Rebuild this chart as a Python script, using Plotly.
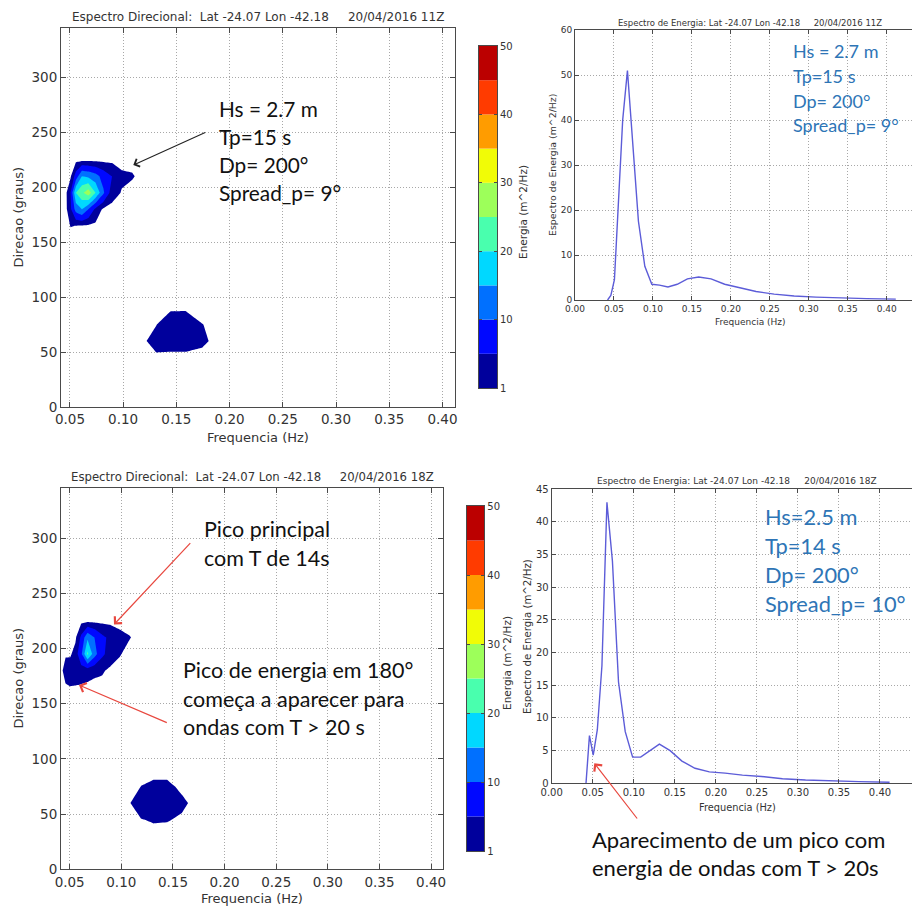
import plotly.graph_objects as go

W, H = 912, 908

# WAVEWATCH III frequency bins (Hz)
FREQS = [0.0418, 0.0460, 0.0506, 0.0556, 0.0612, 0.0673, 0.0740, 0.0814, 0.0896,
         0.0986, 0.1084, 0.1193, 0.1312, 0.1443, 0.1587, 0.1746, 0.1921, 0.2113,
         0.2324, 0.2556, 0.2812, 0.3093, 0.3403, 0.3743, 0.4117]
N2D = 18  # frequency bins carried by the directional grids below

# direction bins (degrees) carried by the directional grids
DIRS = [30, 45, 60, 75, 90, 105, 120, 135, 150, 165, 180, 195, 210, 225, 240]

# directional energy E(f, theta), m^2/Hz, one row per direction in DIRS
E2D_11Z = [
    [0, 0, 0, 0, 0, 0, 0, 0, 0, 0, 0, 0, 0, 0, 0, 0, 0, 0],
    [0, 0, 0, 0, 0, 0, 0, 0, 0, 0, 0, 0, 0.3, 0.2, 0.2, 0.2, 0, 0],
    [0, 0, 0, 0, 0, 0, 0, 0, 0, 0, 0, 0.5, 2.6, 2.5, 2.5, 1.5, 0, 0],
    [0, 0, 0, 0, 0, 0, 0, 0, 0, 0, 0, 0, 0.9, 3.8, 3.8, 1.05, 0, 0],
    [0, 0, 0, 0, 0, 0, 0, 0, 0, 0, 0, 0, 0, 0.3, 0.4, 0, 0, 0],
    [0, 0, 0, 0, 0, 0, 0, 0, 0, 0, 0, 0, 0, 0, 0, 0, 0, 0],
    [0, 0, 0, 0, 0, 0, 0, 0, 0, 0, 0, 0, 0, 0, 0, 0, 0, 0],
    [0, 0, 0, 0, 0, 0, 0, 0, 0, 0, 0, 0, 0, 0, 0, 0, 0, 0],
    [0, 0, 0, 0, 0, 0, 0, 0, 0, 0, 0, 0, 0, 0, 0, 0, 0, 0],
    [0, 0, 1.1, 0.97, 0.8, 0.6, 0.3, 0, 0, 0, 0, 0, 0, 0, 0, 0, 0, 0],
    [0, 0, 4, 12, 15, 10, 4, 0.3, 0, 0, 0, 0, 0, 0, 0, 0, 0, 0],
    [0, 0, 5, 20, 24, 28, 20, 10.8, 2.5, 0.8, 0, 0, 0, 0, 0, 0, 0, 0],
    [0, 0, 0.5, 7, 15, 14, 12, 8, 5, 1.6, 1.3, 0, 0, 0, 0, 0, 0, 0],
    [0, 0, 0, 0, 0, 0, 0, 0, 0, 0, 0, 0, 0, 0, 0, 0, 0, 0],
    [0, 0, 0, 0, 0, 0, 0, 0, 0, 0, 0, 0, 0, 0, 0, 0, 0, 0],
]

E2D_18Z = [
    [0, 0, 0, 0, 0, 0, 0, 0, 0, 0, 0, 0, 0, 0, 0, 0, 0, 0],
    [0, 0, 0, 0, 0, 0, 0, 0, 0, 0, 0, 0.9, 1.3, 1.2, 0.6, 0, 0, 0],
    [0, 0, 0, 0, 0, 0, 0, 0, 0, 0, 0.9, 3, 4, 4, 1.6, 0, 0, 0],
    [0, 0, 0, 0, 0, 0, 0, 0, 0, 0, 0, 1.05, 1.7, 1.7, 0.4, 0, 0, 0],
    [0, 0, 0, 0, 0, 0, 0, 0, 0, 0, 0, 0, 0, 0, 0, 0, 0, 0],
    [0, 0, 0, 0, 0, 0, 0, 0, 0, 0, 0, 0, 0, 0, 0, 0, 0, 0],
    [0, 0, 0, 0, 0, 0, 0, 0, 0, 0, 0, 0, 0, 0, 0, 0, 0, 0],
    [0, 0, 0, 0, 0, 0, 0, 0, 0, 0, 0, 0, 0, 0, 0, 0, 0, 0],
    [0, 0, 0, 0, 0, 0, 0, 0, 0, 0, 0, 0, 0, 0, 0, 0, 0, 0],
    [0, 0.6, 0.9, 0.8, 0.6, 0.4, 0.1, 0, 0, 0, 0, 0, 0, 0, 0, 0, 0, 0],
    [0.3, 2.4, 3.0, 3.0, 3.0, 2.4, 1.8, 1.43, 0.3, 0, 0, 0, 0, 0, 0, 0, 0, 0],
    [0, 0.6, 0.5, 2.5, 9, 21, 12, 6, 3, 1.2, 0, 0, 0, 0, 0, 0, 0, 0],
    [0, 0, 0, 0.3, 6, 14, 10, 6, 4, 1.9, 1.1, 0, 0, 0, 0, 0, 0, 0],
    [0, 0, 0, 0, 0, 0, 0, 0, 0, 0, 0, 0, 0, 0, 0, 0, 0, 0],
    [0, 0, 0, 0, 0, 0, 0, 0, 0, 0, 0, 0, 0, 0, 0, 0, 0, 0],
]

# 1D energy spectra E(f), m^2/Hz, one value per entry of FREQS
E1D_11Z = [0, 1.0, 4.5, 21, 40, 51, 34, 17.5, 7.5, 3.5, 3.3, 2.9, 3.5, 4.7, 5.1,
           4.7, 3.5, 2.7, 1.9, 1.3, 0.9, 0.65, 0.45, 0.3, 0.2]
E1D_18Z = [0, 7.3, 4.3, 8.2, 18, 43, 34, 15.5, 7.9, 4.0, 4.0, 5.0, 6.0, 5.0, 3.4,
           2.3, 1.75, 1.55, 1.25, 1.05, 0.7, 0.5, 0.35, 0.25, 0.15]

# contour levels and the colour of each band between consecutive levels
LEVELS = [1, 5, 10, 15, 20, 25, 30, 35, 40, 45, 50]
BAND_COLORS = ['#00009c', '#0008ff', '#0070ff', '#00d8ff', '#49ffae',
               '#9dff5a', '#f1fc06', '#ff9c00', '#ff3b00', '#bb0000']
CBAR_LABELS = [1, 10, 20, 30, 40, 50]

DIR_TICKS_X = [0.05, 0.10, 0.15, 0.20, 0.25, 0.30, 0.35, 0.40]
DIR_TICKS_Y = [0, 50, 100, 150, 200, 250, 300]
SPEC_TICKS_X = [0.00, 0.05, 0.10, 0.15, 0.20, 0.25, 0.30, 0.35, 0.40]

TITLE_DIR = 'Espectro Direcional:\u00a0 Lat -24.07 Lon -42.18 \u00a0 \u00a0 20/04/2016 {}'
TITLE_SPEC = 'Espectro de Energia: Lat -24.07 Lon -42.18 \u00a0 \u00a0 20/04/2016 {}'

TXT = '#333333'
FRAME = '#4a4a4a'
GRID = '#a8a8a8'
CHART_FONT = 'DejaVu Sans'
NOTE_FONT = 'Lato'
NOTE_BLUE = '#2e75b6'
ARROW_RED = '#e8483f'
LINE_BLUE = '#5c5cd8'


def fx(x):
    return x / W


def fy(y):
    return 1 - y / H


fig = go.Figure()


def transparent_step(color):
    return [[0, 'rgba(0,0,0,0)'], [0.5, 'rgba(0,0,0,0)'], [0.5, color], [1, color]]


def band_scale(colors):
    # stepped scale: position 0 (below the first level) stays transparent
    n = len(colors)
    scale = [[0, 'rgba(0,0,0,0)'], [0.5 / n, 'rgba(0,0,0,0)']]
    for k, c in enumerate(colors, start=1):
        lo = (k - 0.5) / n
        hi = min((k + 0.5) / n, 1)
        scale += [[lo, c], [hi, c]]
    return scale


def add_directional(z, xa, ya):
    x = FREQS[:N2D]
    # lowest band: everything above the first level
    fig.add_trace(go.Contour(
        x=x, y=DIRS, z=z, xaxis=xa, yaxis=ya,
        autocontour=False,
        contours=dict(start=LEVELS[0], end=LEVELS[0] + 1, size=10,
                      coloring='fill', showlines=False),
        line=dict(width=0, smoothing=0),
        colorscale=transparent_step(BAND_COLORS[0]),
        showscale=False, hoverinfo='skip'))
    # remaining evenly spaced bands
    step = LEVELS[2] - LEVELS[1]
    fig.add_trace(go.Contour(
        x=x, y=DIRS, z=z, xaxis=xa, yaxis=ya,
        autocontour=False,
        contours=dict(start=LEVELS[1], end=LEVELS[-2], size=step,
                      coloring='fill', showlines=False),
        line=dict(width=0, smoothing=0),
        colorscale=band_scale(BAND_COLORS[1:]),
        showscale=False, hoverinfo='skip'))


def add_colorbar(xa, ya):
    nb = len(BAND_COLORS)
    fig.add_trace(go.Bar(
        x=[0] * nb, y=[1] * nb, base=list(range(nb)), width=1,
        marker=dict(color=BAND_COLORS, line=dict(width=0)),
        xaxis=xa, yaxis=ya, showlegend=False, hoverinfo='skip'))


def add_spectrum(e, xa, ya):
    fig.add_trace(go.Scatter(
        x=FREQS, y=e, mode='lines', xaxis=xa, yaxis=ya,
        line=dict(color=LINE_BLUE, width=1.4),
        showlegend=False, hoverinfo='skip'))


add_directional(E2D_11Z, 'x', 'y')
add_colorbar('x2', 'y2')
add_spectrum(E1D_11Z, 'x3', 'y3')
add_directional(E2D_18Z, 'x4', 'y4')
add_colorbar('x5', 'y5')
add_spectrum(E1D_18Z, 'x6', 'y6')


def frame_axis(domain, rng, tickvals, ticktext, size, anchor, mirror=True,
               grid=True, side=None, ticklen=5):
    ax = dict(domain=domain, range=rng, anchor=anchor, automargin=False,
              tickmode='array', tickvals=tickvals, ticktext=ticktext,
              ticks='inside', ticklen=ticklen, tickwidth=1, tickcolor=FRAME,
              showline=True, linecolor=FRAME, linewidth=1,
              mirror='ticks' if mirror else False,
              showgrid=grid, gridcolor=GRID, gridwidth=1, griddash='1px,2px',
              zeroline=False, fixedrange=True,
              tickfont=dict(family=CHART_FONT, size=size, color=TXT))
    if side:
        ax['side'] = side
    return ax


def fmt2(v):
    return '%.2f' % v


def ints(vals):
    return [str(v) for v in vals]


cbar_pos = [LEVELS.index(v) for v in CBAR_LABELS]
cbar_txt = ints(CBAR_LABELS)
nbands = len(BAND_COLORS)

layout_axes = dict(
    # top left: directional spectrum 11Z
    xaxis=frame_axis([fx(61), fx(455)], [0.0416, 0.4118], DIR_TICKS_X,
                     [fmt2(v) for v in DIR_TICKS_X], 13.5, 'y'),
    yaxis=frame_axis([fy(407), fy(28)], [0, 345], DIR_TICKS_Y, ints(DIR_TICKS_Y), 13.5, 'x'),
    # top colour bar
    xaxis2=frame_axis([fx(479), fx(497)], [-0.5, 0.5], [], [], 10, 'y2', grid=False),
    yaxis2=frame_axis([fy(388), fy(46)], [0, nbands], cbar_pos, cbar_txt, 10, 'x2',
                      grid=False, side='right', ticklen=3),
    # top right: 1D spectrum 11Z
    xaxis3=frame_axis([fx(575), 1.0], [0, 0.4325], SPEC_TICKS_X,
                      [fmt2(v) for v in SPEC_TICKS_X], 9, 'y3', ticklen=4),
    yaxis3=frame_axis([fy(300), fy(30)], [0, 60], list(range(0, 61, 10)),
                      ints(range(0, 61, 10)), 9, 'x3', mirror=False, ticklen=4),
    # bottom left: directional spectrum 18Z
    xaxis4=frame_axis([fx(61), fx(443.3)], [0.0416, 0.4118], DIR_TICKS_X,
                      [fmt2(v) for v in DIR_TICKS_X], 13.5, 'y4'),
    yaxis4=frame_axis([fy(869.3), fy(488.3)], [0, 345], DIR_TICKS_Y, ints(DIR_TICKS_Y), 13.5, 'x4'),
    # bottom colour bar
    xaxis5=frame_axis([fx(466.7), fx(484.3)], [-0.5, 0.5], [], [], 10, 'y5', grid=False),
    yaxis5=frame_axis([fy(851), fy(506)], [0, nbands], cbar_pos, cbar_txt, 10, 'x5',
                      grid=False, side='right', ticklen=3),
    # bottom right: 1D spectrum 18Z
    xaxis6=frame_axis([fx(551.7), 1.0], [0, 0.439], SPEC_TICKS_X,
                      [fmt2(v) for v in SPEC_TICKS_X], 10, 'y6', ticklen=4),
    yaxis6=frame_axis([fy(783.3), fy(489.3)], [0, 45], list(range(0, 46, 5)),
                      ints(range(0, 46, 5)), 10, 'x6', mirror=False, ticklen=4),
)

annotations = []


def label(text, x, y, size, color=TXT, family=CHART_FONT, angle=0,
          xanchor='center', yanchor='middle'):
    annotations.append(dict(
        text=text, x=fx(x), y=fy(y), xref='paper', yref='paper',
        xanchor=xanchor, yanchor=yanchor, showarrow=False, textangle=angle,
        font=dict(family=family, size=size, color=color)))


def arrow(tail, head, color, width=1.2, head_style=4, head_size=1.6):
    annotations.append(dict(
        text='', x=fx(head[0]), y=fy(head[1]), xref='paper', yref='paper',
        ax=tail[0] - head[0], ay=tail[1] - head[1], axref='pixel', ayref='pixel',
        showarrow=True, arrowhead=head_style, arrowsize=head_size,
        arrowwidth=width, arrowcolor=color, standoff=0, startstandoff=0))


# titles and axis labels of the four panels
label(TITLE_DIR.format('11Z'), 258, 17.5, 12)
label('Frequencia (Hz)', 258, 437, 13)
label('Direcao (graus)', 18, 217.5, 13, angle=-90)
label('Energia (m^2/Hz)', 523, 212, 10.5, angle=-90)

label(TITLE_SPEC.format('11Z'), 750, 23, 8.5)
label('Frequencia (Hz)', 750, 322, 9)
label('Espectro de Energia (m^2/Hz)', 552, 165, 9.4, angle=-90)

label(TITLE_DIR.format('18Z'), 252, 477, 11.7)
label('Frequencia (Hz)', 252, 898, 13)
label('Direcao (graus)', 18, 678.5, 13, angle=-90)
label('Energia (m^2/Hz)', 507, 663, 10.5, angle=-90)

label(TITLE_SPEC.format('18Z'), 737, 481, 9)
label('Frequencia (Hz)', 737, 807, 9.8)
label('Espectro de Energia (m^2/Hz)', 527, 637, 10.2, angle=-90)

# notes over the 11Z panels
for i, t in enumerate(['Hs = 2.7 m', 'Tp=15 s', 'Dp= 200°', 'Spread_p= 9°']):
    label(t, 217, 108 + 28.3 * i, 20.8, color='#111111', family=NOTE_FONT, xanchor='left')
for i, t in enumerate(['Hs = 2.7 m', 'Tp=15 s', 'Dp= 200°', 'Spread_p= 9°']):
    label(t, 791, 51 + 24.8 * i, 18, color=NOTE_BLUE, family=NOTE_FONT, xanchor='left')
arrow((206.7, 131.7), (133.3, 165), '#222222', width=1.1, head_style=4, head_size=1.5)

# notes over the 18Z panels
for i, t in enumerate(['Pico principal', 'com T de 14s']):
    label(t, 201.5, 529 + 28.5 * i, 21.5, color='#111111', family=NOTE_FONT, xanchor='left')
for i, t in enumerate(['Pico de energia em 180°', 'começa a aparecer para', 'ondas com T > 20 s']):
    label(t, 181, 670 + 28.7 * i, 21.5, color='#111111', family=NOTE_FONT, xanchor='left')
for i, t in enumerate(['Hs=2.5 m', 'Tp=14 s', 'Dp= 200°', 'Spread_p= 10°']):
    label(t, 763, 516 + 29 * i, 21.8, color=NOTE_BLUE, family=NOTE_FONT, xanchor='left')
for i, t in enumerate(['Aparecimento de um pico com', 'energia de ondas com T > 20s']):
    label(t, 590, 839 + 28.5 * i, 22, color='#111111', family=NOTE_FONT, xanchor='left')

arrow((191.7, 541.7), (114, 624.5), ARROW_RED)
arrow((168.3, 723.3), (79, 685), ARROW_RED)
arrow((638.3, 820), (594.3, 763.3), ARROW_RED)

fig.update_layout(
    width=W, height=H,
    margin=dict(l=0, r=0, t=0, b=0, pad=0, autoexpand=False),
    paper_bgcolor='white', plot_bgcolor='rgba(0,0,0,0)',
    showlegend=False, barmode='overlay',
    annotations=annotations,
    **layout_axes,
)

fig.write_html('out.html')
